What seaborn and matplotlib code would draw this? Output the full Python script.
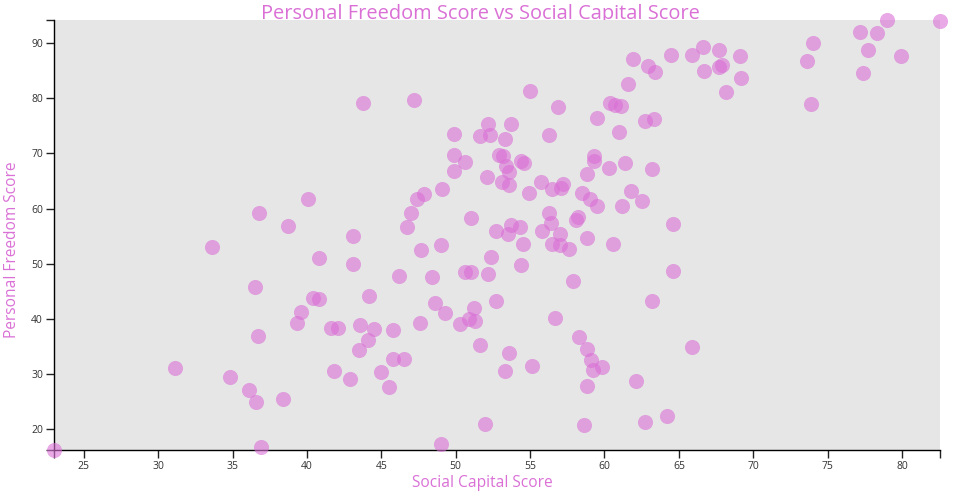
import matplotlib
matplotlib.use("Agg")
import matplotlib.pyplot as plt
import seaborn as sns
import pandas as pd

social_capital = [
    40.1, 36.8, 38.7, 43.1, 33.6, 40.8, 43.1, 36.5, 40.4, 40.8, 39.6, 39.3, 41.6, 42.1, 36.7, 31.1, 34.8, 36.1,
    36.6, 38.4, 41.8, 42.9, 23.0, 36.9,
    43.8, 47.2, 55.0, 56.9, 49.9, 52.2, 51.6, 52.3, 53.7, 53.3, 56.3, 49.9, 50.6, 49.9, 52.9, 53.2, 53.4, 53.6,
    54.4, 54.6, 52.1, 53.1, 53.6, 54.9, 55.7, 56.5, 47.9, 47.4, 49.1, 47.0, 46.7, 51.0, 47.7, 49.0, 52.7, 53.7,
    54.3, 53.5, 54.5, 55.8, 56.3, 56.4, 56.5, 52.4, 54.4,
    46.2, 48.4, 50.6, 51.0, 52.2, 44.2, 48.6, 49.3, 51.2, 52.7, 56.7, 47.6, 50.3, 50.9, 51.3, 43.6, 44.5, 45.8,
    44.1, 43.5, 51.6, 53.6, 45.8, 46.5, 45.0, 45.5, 53.3, 55.1, 52.0, 49.0,
    61.9, 62.9, 63.4, 64.5, 65.9, 66.6, 67.7, 69.1, 66.7, 67.7, 67.9, 69.2, 68.2, 61.6, 60.4, 60.7, 61.1, 59.5,
    62.7, 63.3, 61.0, 59.3, 59.3, 60.3, 61.4, 63.2, 58.8, 57.2, 57.1, 58.5, 59.0, 59.5, 61.8, 62.5, 61.2, 64.6,
    58.2, 58.1,
    57.0, 57.0, 57.6, 58.8, 60.6, 64.6, 57.9, 63.2, 58.3, 58.8, 59.1, 59.2, 59.8, 65.9, 58.8, 62.1, 58.6, 62.7,
    64.2,
    74.0, 73.6, 73.9, 77.2, 78.3, 79.0, 77.7, 79.9, 77.4, 82.55,
]

personal_freedom = [
    61.7, 59.2, 56.8, 55.1, 53.0, 51.0, 49.9, 45.7, 43.7, 43.6, 41.2, 39.2, 38.4, 38.4, 36.9, 31.1, 29.4, 27.1,
    24.9, 25.4, 30.6, 29.1, 16.2, 16.8,
    79.2, 79.6, 81.4, 78.4, 73.6, 75.3, 73.1, 73.4, 75.3, 72.7, 73.3, 69.8, 68.5, 66.8, 69.7, 69.5, 67.7, 66.6,
    68.6, 68.3, 65.7, 64.8, 64.2, 62.8, 64.8, 63.6, 62.6, 61.7, 63.6, 59.1, 56.7, 58.2, 52.5, 53.3, 56.0, 57.0,
    56.7, 55.3, 53.5, 55.9, 59.1, 57.3, 53.6, 51.3, 49.7,
    47.8, 47.5, 48.4, 48.4, 48.1, 44.2, 42.8, 41.1, 41.9, 43.2, 40.1, 39.3, 39.0, 39.9, 39.6, 38.8, 38.1, 37.9,
    36.2, 34.4, 35.2, 33.8, 32.7, 32.7, 30.3, 27.6, 30.6, 31.4, 21.0, 17.2,
    87.2, 85.9, 84.8, 87.8, 87.8, 89.3, 88.7, 87.6, 84.9, 85.6, 86.0, 83.7, 81.1, 82.6, 79.2, 78.7, 78.6, 76.4,
    75.9, 76.2, 73.9, 69.5, 68.6, 67.3, 68.3, 67.2, 66.3, 64.5, 63.8, 62.8, 61.7, 60.4, 63.2, 61.4, 60.5, 57.2,
    58.5, 57.9,
    55.3, 53.3, 52.6, 54.7, 53.6, 48.7, 46.9, 43.3, 36.7, 34.5, 32.6, 30.7, 31.3, 34.9, 27.8, 28.8, 20.8, 21.3,
    22.4,
    90.1, 86.7, 78.9, 92.0, 91.9, 94.2, 88.8, 87.6, 84.6, 94.1,
]

x_ticks = [25, 30, 35, 40, 45, 50, 55, 60, 65, 70, 75, 80]
y_ticks = [20, 30, 40, 50, 60, 70, 80, 90]

title = "Personal Freedom Score vs Social Capital Score"
x_label = "Social Capital Score"
y_label = "Personal Freedom Score"

df = pd.DataFrame({"social": social_capital, "freedom": personal_freedom})

sns.set_theme(style="white")
plt.rcParams["font.family"] = ["Open Sans", "DejaVu Sans"]

accent = "#da70d6"
fig = plt.figure(figsize=(9.6, 5.0), dpi=100)
ax = fig.add_axes([54 / 960, 50 / 500, 886 / 960, 430 / 500])
ax.set_facecolor("#e6e6e6")

sns.scatterplot(data=df, x="social", y="freedom", ax=ax, color=accent, alpha=0.6,
                s=118, linewidth=0, zorder=5, clip_on=False)

xmin, xmax = df["social"].min(), df["social"].max()
ymin, ymax = df["freedom"].min(), df["freedom"].max()
ax.set_xlim(xmin, xmax)
ax.set_ylim(ymin, ymax)

ax.set_xticks(x_ticks)
ax.set_yticks(y_ticks)
ax.set_xticks([xmin, xmax], minor=True)
ax.set_yticks([ymin, ymax], minor=True)
ax.tick_params(axis="both", which="both", direction="out", length=6, width=1,
               color="#222222", labelsize=7.5, labelcolor="#333333", pad=2,
               bottom=True, left=True)
ax.tick_params(which="minor", labelbottom=False, labelleft=False)

ax.set_xlabel("")
ax.set_ylabel("")
for side in ("top", "right"):
    ax.spines[side].set_visible(False)
for side in ("left", "bottom"):
    ax.spines[side].set_color("black")
    ax.spines[side].set_linewidth(1)
ax.grid(False)

fig.text(0.5, 1 - 19 / 500, title, ha="center", va="baseline", color=accent,
         fontsize=14.4, zorder=-1)
fig.text(482 / 960, 1 - 483 / 500, x_label, ha="center", va="center", color=accent,
         fontsize=11.2)
fig.text(12 / 960, 1 - 250 / 500, y_label, ha="center", va="center", color=accent,
         fontsize=11.2, rotation=90)

fig.savefig("out.png", dpi=100)
